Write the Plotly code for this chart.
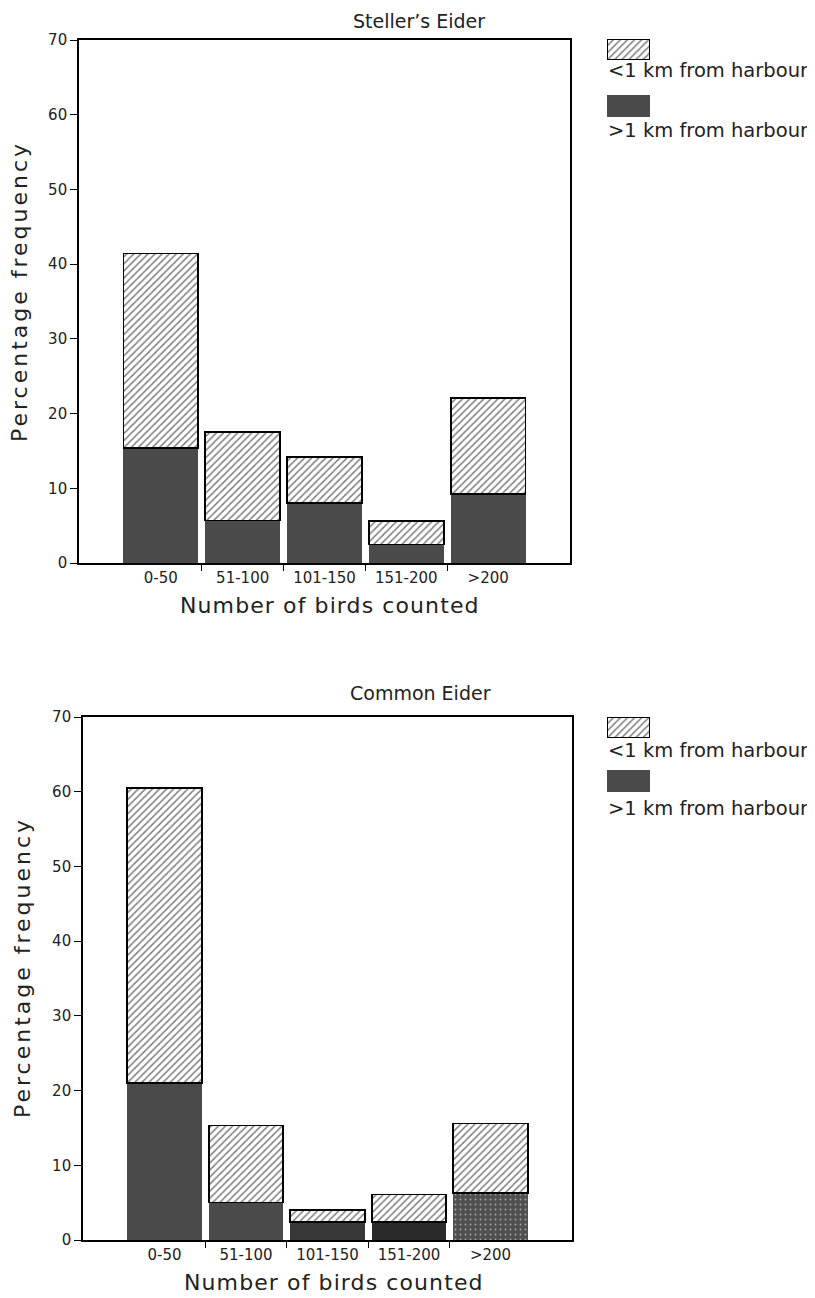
import plotly.graph_objects as go

# ---------------- data ----------------
categories = ["0-50", "51-100", "101-150", "151-200", ">200"]
boundary_ticks = [0.5, 1.5, 2.5, 3.5]

steller_near = [26.0, 11.8, 6.2, 3.1, 12.9]    # <1 km from harbour (hatched part)
steller_far = [15.4, 5.7, 8.0, 2.5, 9.2]       # >1 km from harbour (dark part)

common_near = [39.5, 10.3, 1.6, 3.7, 9.3]
common_far = [21.0, 5.0, 2.4, 2.4, 6.3]

panel_titles = ["Steller’s Eider", "Common Eider"]
legend_labels = ["<1 km from harbour", ">1 km from harbour"]
x_title = "Number of birds counted"
y_title = "Percentage frequency"
y_ticks = [0, 10, 20, 30, 40, 50, 60, 70]

FONT = "DejaVu Sans"
TXT = "#222222"
DARK = "#4a4a4a"
far_colors_common = ["#4a4a4a", "#4a4a4a", "#383838", "#2a2a2a", "#505050"]

# the page body has an 8px margin; size the figure so page == 815x1298
OFF = 8
W, H = 815 - OFF, 1298 - OFF
def px(v):
    return (v - OFF) / W
def py(v):
    return 1 - (v - OFF) / H

fig = go.Figure()
xs = list(range(len(categories)))

hatch = dict(shape="/", fgcolor="black", bgcolor="white", size=5, solidity=0.3, fillmode="overlay")

panels = [
    dict(near=steller_near, far=steller_far, xa="x", ya="y", far_color=DARK, far_pattern=None),
    dict(near=common_near, far=common_far, xa="x2", ya="y2", far_color=far_colors_common,
         far_pattern=dict(shape=["", "", "", "", "."], fgcolor="#b0b0b0", bgcolor=far_colors_common,
                          size=5, solidity=0.1)),
]

for p in panels:
    far_marker = dict(color=p["far_color"], line=dict(width=0))
    if p["far_pattern"]:
        far_marker["pattern"] = p["far_pattern"]
    fig.add_trace(go.Bar(x=xs, y=p["far"], xaxis=p["xa"], yaxis=p["ya"],
                         marker=far_marker, showlegend=False, hoverinfo="skip"))
    fig.add_trace(go.Bar(x=xs, y=p["near"], xaxis=p["xa"], yaxis=p["ya"],
                         marker=dict(color="white", pattern=hatch,
                                     line=dict(color="black", width=1.6)),
                         showlegend=False, hoverinfo="skip"))

# legend key swatches drawn as single bars on small hidden axes
key_specs = [
    # (which: 0 hatched / 1 dark, y top px, y bottom px)
    (0, 39, 60), (1, 95, 117),
    (0, 717, 738), (1, 770, 792),
]
for i, (which, yt, yb) in enumerate(key_specs):
    n = 3 + i
    if which == 0:
        mk = dict(color="white", pattern=hatch, line=dict(color="black", width=1.4))
    else:
        mk = dict(color=DARK, line=dict(width=0))
    fig.add_trace(go.Bar(x=[0], y=[1], width=[1], xaxis=f"x{n}", yaxis=f"y{n}",
                         marker=mk, showlegend=False, hoverinfo="skip"))
    fig.update_layout(**{
        f"xaxis{n}": dict(domain=[px(607), px(650)], range=[-0.5, 0.5], visible=False,
                          anchor=f"y{n}", fixedrange=True, automargin=False),
        f"yaxis{n}": dict(domain=[py(yb), py(yt)], range=[0, 1], visible=False,
                          anchor=f"x{n}", fixedrange=True, automargin=False),
    })

axis_common_x = dict(
    range=[-1.0, 5.0], tickmode="array", tickvals=xs, ticktext=categories, ticks="",
    minor=dict(tickmode="array", tickvals=boundary_ticks, ticks="outside", ticklen=6,
               tickcolor="black", tickwidth=1.3),
    showline=True, linecolor="black", linewidth=1.6, mirror=True, showgrid=False, zeroline=False,
    tickfont=dict(family=FONT, size=15, color=TXT), automargin=False,
)
axis_common_y = dict(
    range=[0, 70], tickmode="array", tickvals=y_ticks, ticks="outside", ticklen=7,
    tickcolor="black", tickwidth=1.3,
    showline=True, linecolor="black", linewidth=1.6, mirror=True, showgrid=False, zeroline=False,
    tickfont=dict(family=FONT, size=15, color=TXT), automargin=False,
)

fig.update_layout(
    width=W, height=H,
    margin=dict(l=0, r=0, t=0, b=0, autoexpand=False),
    paper_bgcolor="white", plot_bgcolor="white",
    barmode="stack", bargap=0.085,
    showlegend=False,
    xaxis=dict(axis_common_x, domain=[px(79), px(570)], anchor="y"),
    yaxis=dict(axis_common_y, domain=[py(563), py(40)], anchor="x"),
    xaxis2=dict(axis_common_x, domain=[px(83), px(572)], anchor="y2"),
    yaxis2=dict(axis_common_y, domain=[py(1240), py(717)], anchor="x2"),
)

def ann(text, x, y, size, xanchor="center", yanchor="middle", angle=0, spacing=0):
    t = text.replace("<", "&lt;").replace(">", "&gt;")
    if spacing:
        t = f'<span style="letter-spacing:{spacing}px">{t}</span>'
    return dict(text=t, x=px(x), y=py(y), xref="paper", yref="paper", showarrow=False,
                xanchor=xanchor, yanchor=yanchor, textangle=angle,
                font=dict(family=FONT, size=size, color=TXT))

annotations = [
    ann(panel_titles[0], 419, OFF, 19, yanchor="top"),
    ann(panel_titles[1], 420, 693, 19),
    ann(x_title, 330, 605, 22, spacing=1.1),
    ann(x_title, 334, 1282, 22, spacing=1.1),
    ann(y_title, 20, 292, 22, angle=-90, spacing=3),
    ann(y_title, 22, 968, 22, angle=-90, spacing=3),
]
for yc in [(70, 131), (750, 808)]:
    for lab, yv in zip(legend_labels, yc):
        annotations.append(ann(lab, 606, yv, 19.5, xanchor="left"))
fig.update_layout(annotations=annotations)

fig.write_html("out.html")
